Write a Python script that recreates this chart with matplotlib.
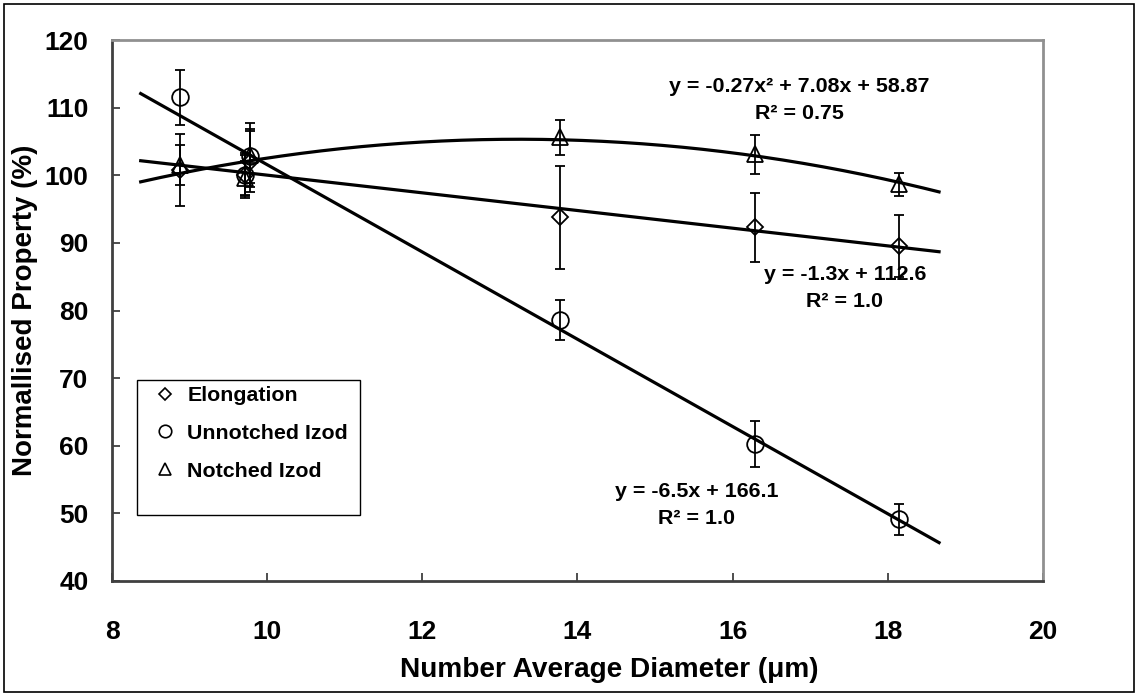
import numpy as np
import matplotlib
matplotlib.use("Agg")
import matplotlib.pyplot as plt
from matplotlib.patches import Rectangle
from matplotlib.lines import Line2D

plt.rcParams['font.family'] = ['Liberation Sans', 'DejaVu Sans']
plt.rcParams['font.weight'] = 'bold'

# ---- data ----
diameter = [8.88, 9.72, 9.78, 13.77, 16.29, 18.15]
elongation = [100.8, 100.0, 102.0, 93.8, 92.3, 89.5]
elongation_err = [5.3, 3.3, 4.5, 7.6, 5.1, 4.6]
unnotched = [111.5, 100.0, 102.8, 78.6, 60.3, 49.1]
unnotched_err = [4.0, 3.0, 4.0, 2.9, 3.4, 2.3]
notched = [101.5, 99.6, 103.0, 105.6, 103.1, 98.7]
notched_err = [2.9, 2.5, 4.8, 2.6, 2.9, 1.7]
trend_range = [8.37, 18.66]

series_names = ["Elongation", "Unnotched Izod", "Notched Izod"]
trend_labels = ["y = -1.3x + 112.6\nR² = 1.0",
                "y = -6.5x + 166.1\nR² = 1.0",
                "y = -0.27x² + 7.08x + 58.87\nR² = 0.75"]
x_ticks = [8, 10, 12, 14, 16, 18, 20]
y_ticks = [40, 50, 60, 70, 80, 90, 100, 110, 120]

W, H = 1138, 696
fig = plt.figure(figsize=(W / 100, H / 100), dpi=100)
fig.patches.append(Rectangle((4 / W, 4 / H), (W - 8) / W, (H - 8) / H,
                             transform=fig.transFigure, fill=False,
                             edgecolor='black', linewidth=1.2))
L, R, T, B = 112, 1043, 40, 581
ax = fig.add_axes([L / W, 1 - B / H, (R - L) / W, (B - T) / H])

markers = ['D', 'o', '^']
msizes = [8.5, 12, 11]
data = [(elongation, elongation_err), (unnotched, unnotched_err), (notched, notched_err)]
degrees = [1, 1, 2]

xx = np.linspace(trend_range[0], trend_range[1], 200)
for (vals, errs), deg in zip(data, degrees):
    coef = np.polyfit(diameter, vals, deg)
    ax.plot(xx, np.polyval(coef, xx), color='black', lw=2.3, zorder=2)

for (vals, errs), m, ms in zip(data, markers, msizes):
    ax.errorbar(diameter, vals, yerr=errs, fmt=m, ms=ms, mfc='none', mec='black',
                mew=1.3, ecolor='black', elinewidth=1.3, capsize=3.6, capthick=1.3,
                zorder=3)

ax.set_xlim(8, 20)
ax.set_ylim(40, 120)
ax.set_xticks(x_ticks)
ax.set_yticks(y_ticks)
ax.tick_params(direction='in', length=6, width=1.3, colors='#404040',
               labelcolor='black', labelsize=19, pad=17)
ax.tick_params(axis='x', pad=28)
for lab in ax.get_xticklabels() + ax.get_yticklabels():
    lab.set_fontweight('bold')
for s in ['left', 'bottom']:
    ax.spines[s].set_color('#404040')
    ax.spines[s].set_linewidth(2)
for s in ['top', 'right']:
    ax.spines[s].set_color('#909090')
    ax.spines[s].set_linewidth(2)

ax.set_xlabel("Number Average Diameter (μm)", fontsize=20.2, fontweight='bold')
ax.set_ylabel("Normallised Property (%)", fontsize=20, fontweight='bold')
ax.xaxis.set_label_coords(((397 + 822) / 2 - L) / (R - L), -(657 - B) / (B - T))
ax.yaxis.set_label_coords((38 - L) / (R - L), 0.5)

# trendline equations
def px(xp, yp):
    return (xp / W, 1 - yp / H)

pos = [(845, 288), (697, 505), (799, 100)]
for (xp, yp), txt in zip(pos, trend_labels):
    fig.text(*px(xp, yp), txt, ha='center', va='center', fontsize=15.4,
             fontweight='bold', linespacing=1.55)

# legend (frame drawn separately, like the reference box)
fig.patches.append(Rectangle((137 / W, 1 - 515 / H), (360 - 137) / W, (515 - 380) / H,
                             transform=fig.transFigure, fill=False,
                             edgecolor='black', linewidth=1.0, zorder=5))
handles = [Line2D([], [], ls='none', marker=m, ms=ms * 0.75, mfc='none', mec='black',
                  mew=1.2) for m, ms in zip(markers, msizes)]
leg = ax.legend(handles, series_names, loc='upper left',
                bbox_to_anchor=((150 - L) / (R - L), 1 - (386 - T) / (B - T)),
                frameon=False, prop={'weight': 'bold', 'size': 15.4},
                labelspacing=0.88, borderpad=0.0, handletextpad=0.35,
                handlelength=1.4, borderaxespad=0)

fig.savefig("out.png", dpi=100)
